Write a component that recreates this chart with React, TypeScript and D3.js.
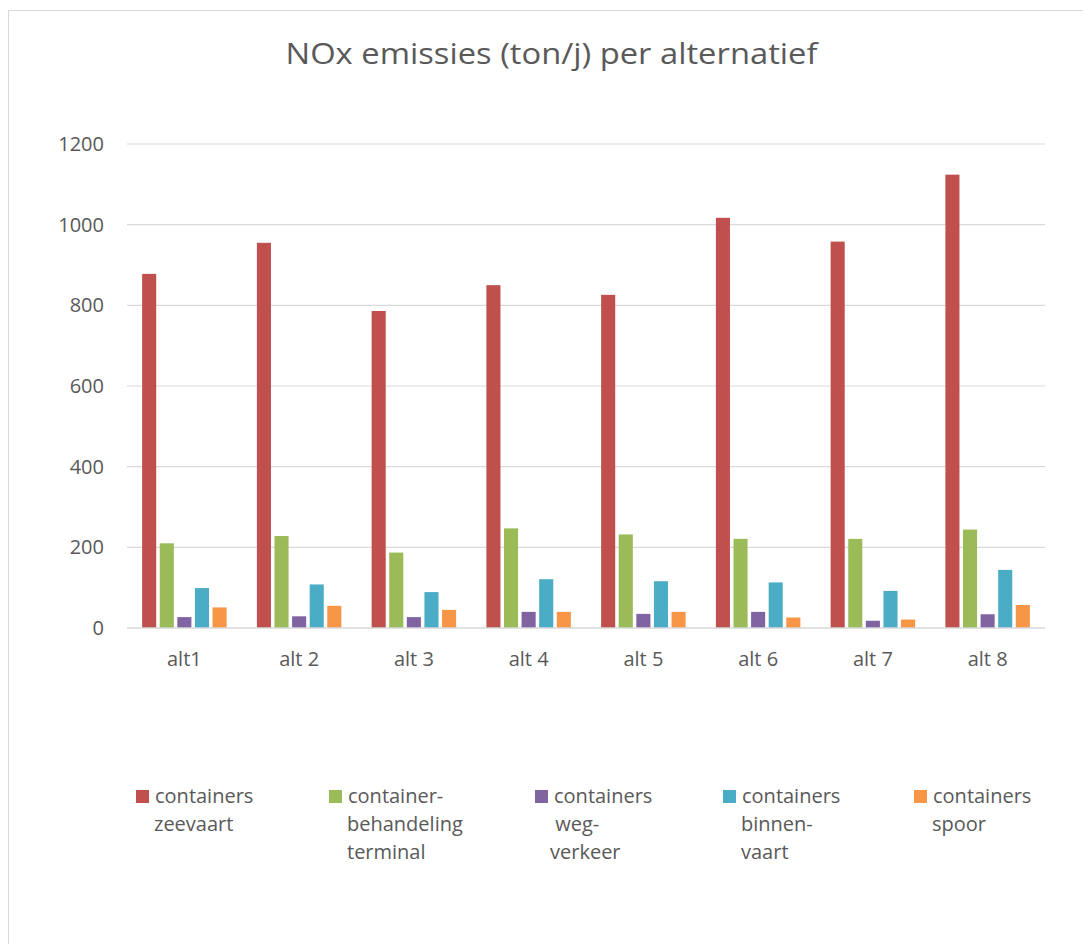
import React from "react";
import * as d3 from "d3";

const categories = ["alt1", "alt 2", "alt 3", "alt 4", "alt 5", "alt 6", "alt 7", "alt 8"];
const seriesNames = [
  "containers zeevaart",
  "container-behandeling terminal",
  "containers weg-verkeer",
  "containers binnen-vaart",
  "containers spoor",
];
const zeevaart = [878, 955, 786, 850, 826, 1017, 958, 1124];
const behandeling = [210, 228, 187, 247, 232, 221, 221, 244];
const wegverkeer = [27, 29, 27, 40, 35, 40, 18, 34];
const binnenvaart = [99, 108, 89, 121, 116, 113, 92, 144];
const spoor = [51, 55, 45, 40, 40, 26, 21, 57];
const yTicks = [0, 200, 400, 600, 800, 1000, 1200];
const legendLines = [
  ["containers", "zeevaart"],
  ["container-", "behandeling", "terminal"],
  ["containers", " weg-", "verkeer"],
  ["containers", "binnen-", "vaart"],
  ["containers", "spoor"],
];
const colors = ["#C0504D", "#9BBB59", "#8064A2", "#4BACC6", "#F79646"];

const seriesValues = [zeevaart, behandeling, wegverkeer, binnenvaart, spoor];

const W = 1083;
const H = 944;
const FONT = "'Open Sans', Carlito, Calibri, sans-serif";

export default function App() {
  const x = d3.scaleBand<string>().domain(categories).range([127, 1045]).paddingInner(0).paddingOuter(0);
  const xs = d3
    .scaleBand<string>()
    .domain(seriesNames)
    .range([0, x.bandwidth()])
    .paddingInner(0.2)
    .paddingOuter(0.86);
  const y = d3.scaleLinear().domain([0, 1200]).range([628, 144]);

  const legendX = [136, 329, 535, 723, 914];

  return (
    <svg
      width={W}
      height={H}
      style={{ position: "absolute", left: 0, top: 0, display: "block", background: "#fff" }}
    >
      <rect x={8.5} y={10.5} width={W} height={H} fill="#fff" stroke="#D9D9D9" strokeWidth={1} />
      <text
        x={551.5}
        y={64}
        textAnchor="middle"
        fontFamily={FONT}
        fontSize={29}
        fontWeight={400}
        fill="#595959"
        textLength={532}
        lengthAdjust="spacingAndGlyphs"
      >
        NOx emissies (ton/j) per alternatief
      </text>

      {yTicks.map((t) => (
        <g key={t}>
          {t !== 0 && (
            <line x1={127} x2={1045} y1={y(t)} y2={y(t)} stroke="#D9D9D9" strokeWidth={1.2} />
          )}
          <text
            x={104}
            y={y(t) + 7}
            textAnchor="end"
            fontFamily={FONT}
            fontSize={20}
            fill="#595959"
          >
            {t}
          </text>
        </g>
      ))}

      {categories.map((c, ci) => (
        <g key={c}>
          {seriesValues.map((vals, si) => (
            <rect
              key={si}
              x={(x(c) as number) + (xs(seriesNames[si]) as number)}
              y={y(vals[ci])}
              width={xs.bandwidth()}
              height={y(0) - y(vals[ci])}
              fill={colors[si]}
            />
          ))}
          <text
            x={(x(c) as number) + x.bandwidth() / 2}
            y={666}
            textAnchor="middle"
            fontFamily={FONT}
            fontSize={20}
            fill="#595959"
          >
            {c}
          </text>
        </g>
      ))}
      <line x1={127} x2={1045} y1={y(0)} y2={y(0)} stroke="#D9D9D9" strokeWidth={1.6} />

      {seriesNames.map((s, si) => (
        <g key={s}>
          <rect x={legendX[si]} y={790} width={13} height={13} fill={colors[si]} />
          <text fontFamily={FONT} fontSize={20} fill="#595959" style={{ whiteSpace: "pre" }}>
            {legendLines[si].map((ln, li) => (
              <tspan
                key={li}
                x={li === 0 ? legendX[si] + 19 : legendX[si] + 18 + (si === 2 ? -3 : 0)}
                y={803 + li * 28}
              >
                {ln}
              </tspan>
            ))}
          </text>
        </g>
      ))}
    </svg>
  );
}
